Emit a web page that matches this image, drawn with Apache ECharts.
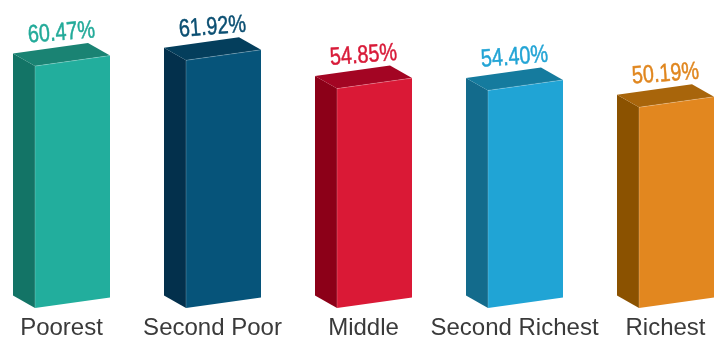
<!DOCTYPE html>
<html>
<head>
<meta charset="utf-8">
<style>
  html, body { margin: 0; padding: 0; background: #ffffff; }
  #chart { width: 717px; height: 340px; }
</style>
<script src="https://cdn.jsdelivr.net/npm/echarts@6/dist/echarts.min.js"></script>
</head>
<body>
<div id="chart"></div>
<script>
// Wealth quintiles and their shares (percent)
const categories = ['Poorest', 'Second Poor', 'Middle', 'Second Richest', 'Richest'];
const shares = [60.47, 61.92, 54.85, 54.40, 50.19];

// Per-bar palette: front face, left side face, top face, value label
const frontColors = ['#22ae9d', '#06547a', '#da1936', '#20a4d5', '#e2871f'];
const sideColors  = ['#137466', '#03304c', '#8c0018', '#136b8c', '#8b5200'];
const topColors   = ['#1a8373', '#043e5c', '#a30523', '#157b9e', '#a8650b'];
const labelColors = ['#22aa99', '#0b4f72', '#d81a38', '#22a4d5', '#e0861e'];

// Box geometry (pixels)
const FRONT_W = 75;     // width of the front face
const FRONT_OFF = 26.5; // front face left edge relative to band centre
const SIDE_DX = 22;     // horizontal depth of the side face
const SIDE_DY = 12.5;   // vertical depth of the side face
const TILT = 10.5;      // rise of the front face across its width

function renderItem(params, api) {
  const idx = params.dataIndex;
  const top = api.coord([api.value(0), api.value(1)]);
  const base = api.coord([api.value(0), 0]);
  const cx = top[0];
  const yt = top[1];
  const yb = base[1];
  const fl = cx - FRONT_OFF;
  const fr = fl + FRONT_W;

  return {
    type: 'group',
    children: [
      {
        type: 'polygon',
        shape: { points: [[fl - SIDE_DX, yt - SIDE_DY], [fl, yt], [fl, yb], [fl - SIDE_DX, yb - SIDE_DY]] },
        style: { fill: sideColors[idx] }
      },
      {
        type: 'polygon',
        shape: { points: [[fl - SIDE_DX, yt - SIDE_DY], [fl, yt], [fr, yt - TILT], [fr - SIDE_DX, yt - SIDE_DY - TILT]] },
        style: { fill: topColors[idx] }
      },
      {
        type: 'polygon',
        shape: { points: [[fl, yt], [fr, yt - TILT], [fr, yb - TILT], [fl, yb]] },
        style: { fill: frontColors[idx] }
      },
      {
        type: 'polyline',
        shape: { points: [[fl, yb], [fl, yt], [fr, yt - TILT]] },
        style: { stroke: 'rgba(255,255,255,0.3)', lineWidth: 0.7, fill: null }
      },
      {
        type: 'text',
        x: cx,
        y: yt - 33,
        rotation: 0.075,
        scaleX: 0.79,
        style: {
          text: api.value(1).toFixed(2) + '%',
          fill: labelColors[idx],
          stroke: labelColors[idx],
          lineWidth: 0.5,
          font: '25px "Liberation Sans", Arial, sans-serif',
          align: 'center',
          verticalAlign: 'middle'
        }
      }
    ]
  };
}

const chart = echarts.init(document.getElementById('chart'), null, { renderer: 'canvas' });
chart.setOption({
  animation: false,
  backgroundColor: '#ffffff',
  grid: { left: -14, right: -24, top: 0, bottom: 32, containLabel: false, outerBoundsMode: 'none' },
  xAxis: {
    type: 'category',
    data: categories,
    boundaryGap: true,
    axisLine: { show: false },
    axisTick: { show: false },
    splitLine: { show: false },
    axisLabel: {
      interval: 0,
      margin: 8,
      color: '#3a3a3a',
      fontSize: 24,
      fontFamily: '"Liberation Sans", Arial, sans-serif'
    }
  },
  yAxis: {
    type: 'value',
    min: 0,
    max: 77,
    show: false,
    splitLine: { show: false }
  },
  series: [{
    type: 'custom',
    clip: false,
    renderItem: renderItem,
    data: categories.map((c, i) => [i, shares[i]])
  }]
});
</script>
</body>
</html>
